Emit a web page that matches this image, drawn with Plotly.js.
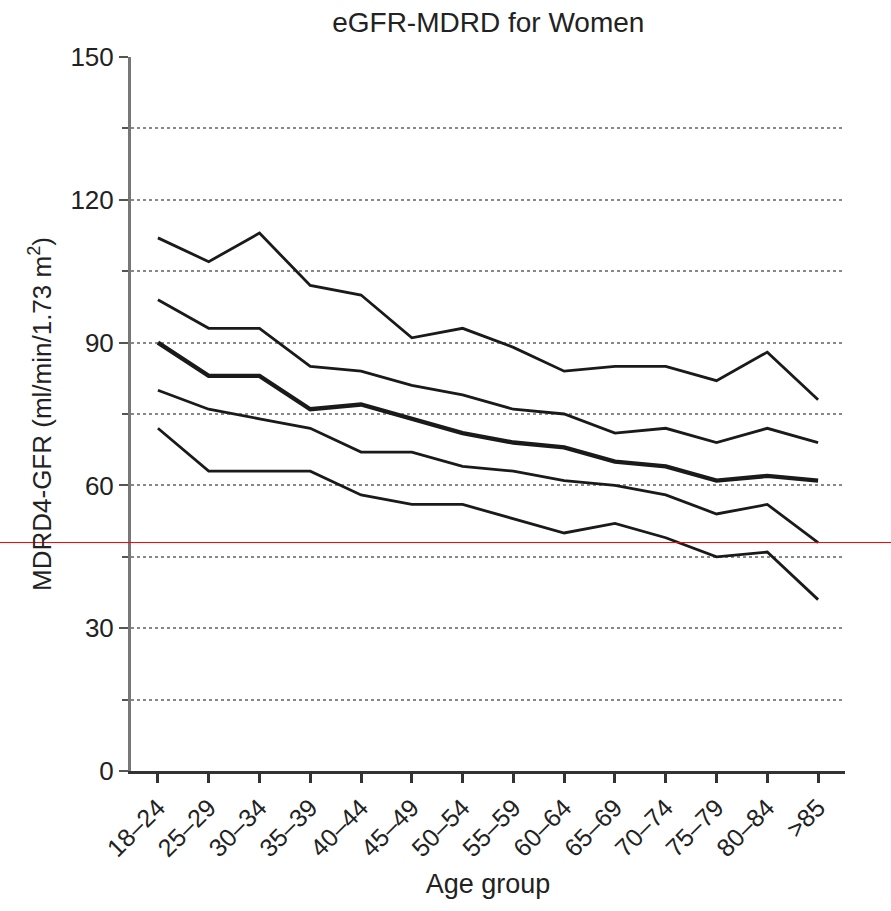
<!DOCTYPE html>
<html>
<head>
<meta charset="utf-8">
<script src="https://cdn.plot.ly/plotly-3.0.1.min.js"></script>
<style>html,body{margin:0;padding:0;background:#fff;}#chart{width:891px;height:911px;}</style>
</head>
<body>
<div id="chart"></div>
<script>
const ageGroups = ["18–24","25–29","30–34","35–39","40–44","45–49","50–54","55–59","60–64","65–69","70–74","75–79","80–84",">85"];
const p90 = [112,107,113,102,100,91,93,89,84,85,85,82,88,78];
const p75 = [99,93,93,85,84,81,79,76,75,71,72,69,72,69];
const p50 = [90,83,83,76,77,74,71,69,68,65,64,61,62,61];
const p25 = [80,76,74,72,67,67,64,63,61,60,58,54,56,48];
const p10 = [72,63,63,63,58,56,56,53,50,52,49,45,46,36];
const referenceLine = 48;

const series = [
  {name:"P90", y:p90, w:2.8},
  {name:"P75", y:p75, w:2.8},
  {name:"P50", y:p50, w:4.4},
  {name:"P25", y:p25, w:2.8},
  {name:"P10", y:p10, w:2.8}
];
const traces = series.map(s => ({
  type:"scatter", mode:"lines", x:ageGroups, y:s.y, name:s.name,
  line:{color:"#1a1a1a", width:s.w}, hoverinfo:"x+y"
}));

const font = {family:"Liberation Sans, Arial, sans-serif", color:"#222"};
const layout = {
  width:891, height:911,
  margin:{l:131, r:46, t:57, b:140},
  paper_bgcolor:"#fff", plot_bgcolor:"#fff",
  showlegend:false,
  font:Object.assign({size:24}, font),
  title:{text:"eGFR-MDRD for Women", x:0.548, xanchor:"center", y:0.976, yanchor:"middle",
         font:Object.assign({}, font, {size:28})},
  xaxis:{
    type:"category", range:[-0.53, 13.53],
    showline:true, linecolor:"#333", linewidth:3,
    ticks:"outside", ticklen:9, tickwidth:3, tickcolor:"#333",
    tickangle:-45, showgrid:false, zeroline:false,
    tickfont:Object.assign({}, font, {size:25}),
    title:{text:"Age group", font:Object.assign({}, font, {size:27}), standoff:14}
  },
  yaxis:{
    range:[0,150], tickvals:[0,30,60,90,120,150],
    showline:true, linecolor:"#777", linewidth:3,
    ticks:"outside", ticklen:9, tickwidth:2, tickcolor:"#555",
    showgrid:true, gridcolor:"#888", griddash:"dot", gridwidth:2, zeroline:false,
    tickfont:Object.assign({}, font, {size:26}),
    minor:{tickvals:[15,45,75,105,135], ticks:"outside", ticklen:6, tickwidth:2, tickcolor:"#555",
           showgrid:true, gridcolor:"#888", griddash:"dot", gridwidth:2},
    title:{text:"MDRD4-GFR (ml/min/1.73 m<sup>2</sup>)", font:Object.assign({}, font, {size:26}), standoff:12}
  },
  shapes:[
    {type:"line", xref:"paper", yref:"y", x0:-131/714, x1:760/714, y0:referenceLine, y1:referenceLine,
     line:{color:"#ff0000", width:1}, layer:"above"}
  ]
};
Plotly.newPlot("chart", traces, layout, {displayModeBar:false, staticPlot:true});
</script>
</body>
</html>
